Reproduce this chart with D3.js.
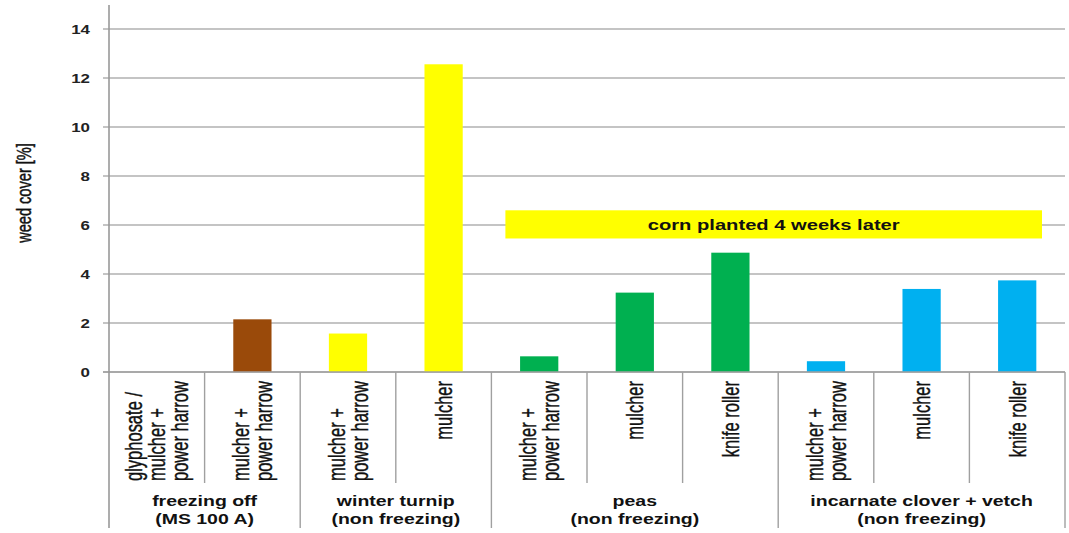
<!DOCTYPE html>
<html>
<head>
<meta charset="utf-8">
<script src="https://cdn.jsdelivr.net/npm/d3@7"></script>
<style>
  html, body { margin: 0; padding: 0; background: #fff; }
  svg { display: block; font-family: "Liberation Sans", Arial, sans-serif; }
</style>
</head>
<body>
<svg id="chart" width="1069" height="533"></svg>
<script>
// Treatments (one bar each), grouped by cover crop
const categories = [
  ["glyphosate /", "mulcher +", "power harrow"],
  ["mulcher +", "power harrow"],
  ["mulcher +", "power harrow"],
  ["mulcher"],
  ["mulcher +", "power harrow"],
  ["mulcher"],
  ["knife roller"],
  ["mulcher +", "power harrow"],
  ["mulcher"],
  ["knife roller"]
];
const weedCover = [0, 2.15, 1.57, 12.56, 0.64, 3.24, 4.87, 0.44, 3.39, 3.74];
const barColors = ["#9a4a0a", "#9a4a0a", "#ffff00", "#ffff00", "#00b050", "#00b050", "#00b050", "#00b0f0", "#00b0f0", "#00b0f0"];
const groups = [
  { lines: ["freezing off", "(MS 100 A)"], from: 0, to: 2 },
  { lines: ["winter turnip", "(non freezing)"], from: 2, to: 4 },
  { lines: ["peas", "(non freezing)"], from: 4, to: 7 },
  { lines: ["incarnate clover + vetch", "(non freezing)"], from: 7, to: 10 }
];
const yTicks = [0, 2, 4, 6, 8, 10, 12, 14];
const yTitle = "weed cover [%]";
const note = { text: "corn planted 4 weeks later", from: 4, to: 10, yLow: 5.45, yHigh: 6.6 };

// Text in this chart is set slightly widened horizontally
const SX = 1.3;
const SX_ROT = 1.4;

const svg = d3.select("#chart");
const left = 109, right = 1065, zeroY = 372, topY = 29;

const x = d3.scaleBand()
  .domain(d3.range(categories.length))
  .range([left, right])
  .paddingInner(0.6)
  .paddingOuter(0.3);
const step = x.step();
const edge = i => left + i * step;

const y = d3.scaleLinear().domain([0, 14]).range([zeroY, topY]);

// Horizontal gridlines with short ticks left of the axis
const grid = svg.append("g");
grid.selectAll("line.grid").data(yTicks).join("line")
  .attr("class", "grid")
  .attr("x1", left - 6).attr("x2", right)
  .attr("y1", d => y(d)).attr("y2", d => y(d))
  .attr("stroke", "#b0b0b0").attr("stroke-width", 1.6);

// Y tick labels
svg.append("g").selectAll("text").data(yTicks).join("text")
  .attr("transform", d => `translate(90,${y(d)}) scale(${SX},1)`)
  .attr("text-anchor", "end")
  .attr("dy", "0.36em")
  .attr("font-size", 13)
  .attr("font-weight", "bold")
  .attr("fill", "#222")
  .text(d => d);

// Y axis title
svg.append("text")
  .attr("transform", `translate(24,193) scale(${SX_ROT},1) rotate(-90)`)
  .attr("text-anchor", "middle")
  .attr("dy", "0.35em")
  .attr("font-size", 14.6)
  .attr("fill", "#111")
  .attr("stroke", "#111").attr("stroke-width", 0.35)
  .text(yTitle);

// Bars
svg.append("g").selectAll("rect").data(weedCover).join("rect")
  .attr("x", (d, i) => x(i))
  .attr("width", x.bandwidth())
  .attr("y", d => y(d))
  .attr("height", d => y(0) - y(d))
  .attr("fill", (d, i) => barColors[i]);

// Annotation banner
const noteX0 = edge(note.from) + 14, noteX1 = edge(note.to) - 23;
svg.append("rect")
  .attr("x", noteX0).attr("width", noteX1 - noteX0)
  .attr("y", y(note.yHigh)).attr("height", y(note.yLow) - y(note.yHigh))
  .attr("fill", "#ffff00");
svg.append("text")
  .attr("transform", `translate(${(noteX0 + noteX1) / 2},${(y(note.yHigh) + y(note.yLow)) / 2}) scale(${SX},1)`)
  .attr("text-anchor", "middle")
  .attr("dy", "0.36em")
  .attr("font-size", 15.5)
  .attr("font-weight", "bold")
  .attr("fill", "#111")
  .text(note.text);

// Category separators: short ones inside a group, long ones between groups
const groupEdges = new Set(groups.map(g => g.from).concat([categories.length]));
const sep = svg.append("g");
d3.range(1, categories.length + 1).forEach(i => {
  sep.append("line")
    .attr("x1", edge(i)).attr("x2", edge(i))
    .attr("y1", zeroY).attr("y2", groupEdges.has(i) ? 528 : 483)
    .attr("stroke", "#a0a0a0").attr("stroke-width", 1.4);
});

// Zero line and vertical axis
svg.append("line")
  .attr("x1", left - 6).attr("x2", right)
  .attr("y1", zeroY).attr("y2", zeroY)
  .attr("stroke", "#a0a0a0").attr("stroke-width", 1.6);
svg.append("line")
  .attr("x1", left).attr("x2", left)
  .attr("y1", 5).attr("y2", 528)
  .attr("stroke", "#999").attr("stroke-width", 1.6);

// Rotated category labels: block top-aligned, lines start at the block's bottom
const catFont = 16.5, lineGap = 23 / SX_ROT;
categories.forEach((lines, i) => {
  const g = svg.append("g");
  const texts = lines.map(t => g.append("text")
    .attr("font-size", catFont)
    .attr("fill", "#111")
    .attr("stroke", "#111").attr("stroke-width", 0.3)
    .attr("text-anchor", "start")
    .text(t));
  const maxLen = d3.max(texts, t => t.node().getComputedTextLength());
  const cx = x(i) + x.bandwidth() / 2;
  g.attr("transform", `translate(${cx},${381 + maxLen}) scale(${SX_ROT},1) rotate(-90)`);
  texts.forEach((t, k) => {
    t.attr("x", 0)
     .attr("y", (k - (lines.length - 1) / 2) * lineGap)
     .attr("dy", "0.36em");
  });
});

// Group labels
groups.forEach(gr => {
  const cx = (edge(gr.from) + edge(gr.to)) / 2;
  gr.lines.forEach((t, k) => {
    svg.append("text")
      .attr("transform", `translate(${cx},${506 + k * 18}) scale(${SX},1)`)
      .attr("text-anchor", "middle")
      .attr("font-size", 15)
      .attr("font-weight", "bold")
      .attr("fill", "#111")
      .text(t);
  });
});
</script>
</body>
</html>
